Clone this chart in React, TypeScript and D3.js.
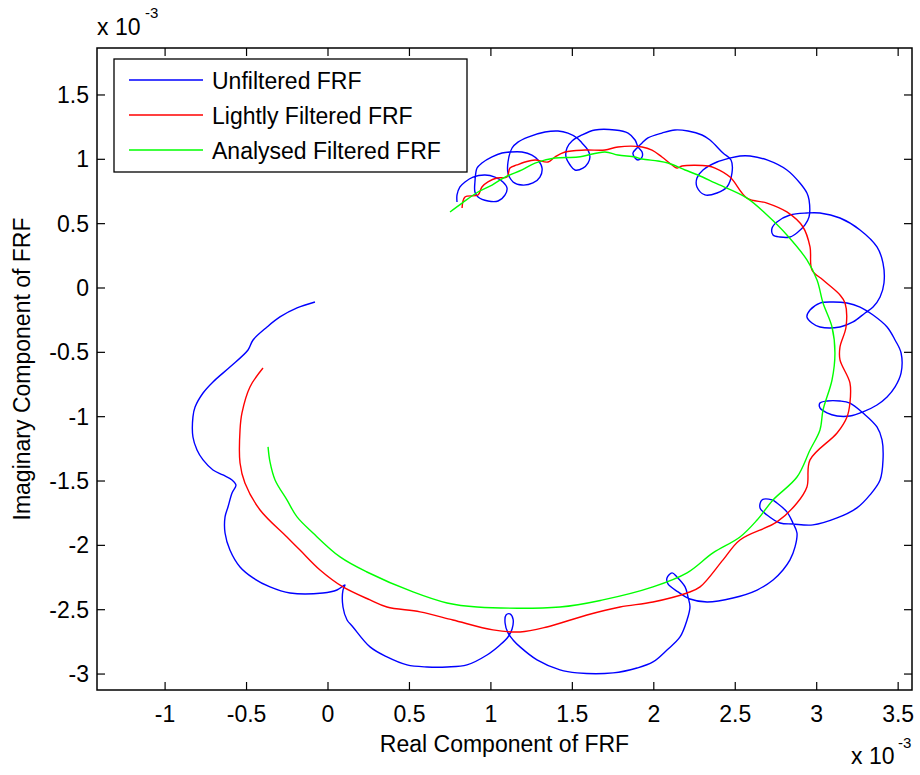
import React from "react";
import * as d3 from "d3";

// Values in units of 1e-3 (axes show "x 10^-3")
const xTicks = [-1, -0.5, 0, 0.5, 1, 1.5, 2, 2.5, 3, 3.5];
const yTicks = [-3, -2.5, -2, -1.5, -1, -0.5, 0, 0.5, 1, 1.5];
const xDomain = [-1.418, 3.585];
const yDomain = [-3.124, 1.865];

const seriesNames = ["Unfiltered FRF", "Lightly Filtered FRF", "Analysed Filtered FRF"];
const seriesColors = ["#0000ff", "#ff0000", "#00ff00"];

const bluePts = [
  [-0.080,-0.109],[-0.190,-0.155],[-0.295,-0.225],[-0.374,-0.303],[-0.460,-0.404],[-0.491,-0.482],
  [-0.602,-0.614],[-0.706,-0.730],[-0.767,-0.816],[-0.816,-0.925],[-0.829,-1.002],[-0.829,-1.158],
  [-0.804,-1.259],[-0.767,-1.336],[-0.706,-1.414],[-0.645,-1.453],[-0.589,-1.492],[-0.565,-1.531],
  [-0.589,-1.593],[-0.614,-1.702],[-0.632,-1.779],[-0.632,-1.904],[-0.602,-2.036],[-0.540,-2.168],
  [-0.460,-2.253],[-0.356,-2.323],[-0.233,-2.370],[-0.031,-2.370],[0.055,-2.347],[0.104,-2.308],
  [0.092,-2.347],[0.092,-2.479],[0.117,-2.580],[0.153,-2.634],[0.258,-2.789],[0.362,-2.867],
  [0.485,-2.929],[0.608,-2.945],[0.731,-2.945],[0.853,-2.929],[0.976,-2.852],[1.056,-2.774],
  [1.105,-2.712],[1.130,-2.650],[1.136,-2.573],[1.117,-2.533],[1.093,-2.541],[1.087,-2.603],
  [1.105,-2.680],[1.136,-2.735],[1.179,-2.789],[1.283,-2.890],[1.424,-2.968],[1.529,-2.991],
  [1.750,-2.991],[1.897,-2.953],[1.995,-2.906],[2.081,-2.813],[2.161,-2.712],[2.204,-2.580],
  [2.222,-2.479],[2.210,-2.401],[2.192,-2.323],[2.142,-2.246],[2.112,-2.214],[2.081,-2.253],
  [2.087,-2.300],[2.149,-2.362],[2.222,-2.417],[2.327,-2.440],[2.486,-2.409],
  [2.634,-2.347],[2.732,-2.269],[2.793,-2.191],[2.836,-2.113],[2.867,-2.012],[2.879,-1.904],
  [2.854,-1.826],[2.817,-1.740],[2.756,-1.671],[2.726,-1.647],[2.664,-1.647],[2.652,-1.709],
  [2.695,-1.764],[2.775,-1.826],[2.854,-1.834],[2.977,-1.841],[3.125,-1.787],[3.247,-1.709],
  [3.327,-1.608],[3.389,-1.492],[3.407,-1.336],[3.401,-1.181],[3.370,-1.080],[3.284,-0.971],
  [3.204,-0.894],[3.143,-0.878],[3.063,-0.878],[3.020,-0.894],[3.020,-0.932],[3.063,-0.971],
  [3.125,-0.995],[3.204,-0.995],[3.284,-0.963],[3.370,-0.909],[3.432,-0.847],[3.481,-0.769],
  [3.518,-0.660],[3.518,-0.505],[3.481,-0.404],[3.432,-0.303],[3.346,-0.210],[3.266,-0.148],
  [3.186,-0.117],[3.100,-0.109],[3.020,-0.117],[2.959,-0.171],[2.940,-0.225],[2.971,-0.272],
  [3.020,-0.303],[3.143,-0.303],[3.223,-0.264],[3.297,-0.194],[3.346,-0.148],[3.389,-0.070],
  [3.413,0.039],[3.407,0.194],[3.370,0.319],[3.266,0.451],[3.143,0.544],[3.020,0.583],
  [2.940,0.583],[2.836,0.567],[2.756,0.513],[2.726,0.466],[2.732,0.412],[2.775,0.396],
  [2.836,0.396],[2.885,0.435],[2.928,0.490],[2.953,0.552],[2.953,0.684],[2.940,0.738],
  [2.897,0.816],[2.817,0.917],[2.695,0.995],[2.591,1.026],[2.529,1.026],[2.468,1.010],
  [2.388,0.979],[2.302,0.917],[2.265,0.855],[2.265,0.785],[2.314,0.723],[2.388,0.738],
  [2.449,0.785],[2.480,0.894],[2.474,0.995],[2.425,1.049],[2.345,1.150],[2.296,1.189],
  [2.210,1.220],[2.130,1.228],[2.050,1.204],[1.964,1.166],[1.928,1.127],[1.897,1.088],
  [1.872,1.049],[1.885,1.010],[1.903,0.995],[1.928,1.018],[1.928,1.057],[1.903,1.096],
  [1.885,1.150],[1.842,1.204],[1.762,1.228],[1.639,1.228],[1.559,1.189],[1.498,1.142],
  [1.467,1.088],[1.461,1.018],[1.486,0.956],[1.516,0.917],[1.565,0.932],[1.596,0.971],
  [1.608,1.018],[1.596,1.072],[1.559,1.127],[1.529,1.166],[1.473,1.204],[1.412,1.220],
  [1.332,1.212],[1.228,1.173],[1.166,1.134],[1.130,1.088],[1.105,0.979],[1.105,0.894],
  [1.136,0.824],[1.191,0.800],[1.258,0.816],[1.301,0.862],[1.314,0.932],[1.289,0.995],
  [1.252,1.033],[1.191,1.057],[1.117,1.057],[1.068,1.049],[1.007,1.018],[0.945,0.971],
  [0.915,0.932],[0.902,0.824],[0.902,0.746],[0.921,0.707],[0.982,0.676],[1.044,0.676],
  [1.087,0.723],[1.099,0.777],[1.074,0.824],[1.025,0.862],[0.964,0.878],[0.890,0.862],
  [0.841,0.824],[0.810,0.785],[0.792,0.723],[0.792,0.668],
];

const redPts = [
  [-0.399,-0.622],[-0.479,-0.769],[-0.528,-0.971],[-0.540,-1.103],[-0.540,-1.360],[-0.510,-1.515],
  [-0.417,-1.725],[-0.252,-1.935],[-0.172,-2.036],[-0.049,-2.191],[0.092,-2.323],[0.258,-2.424],
  [0.362,-2.479],[0.565,-2.517],[0.767,-2.580],[1.013,-2.657],[1.179,-2.673],[1.344,-2.634],
  [1.590,-2.541],[1.793,-2.479],[1.995,-2.440],[2.204,-2.370],[2.284,-2.323],[2.425,-2.113],
  [2.529,-1.958],[2.756,-1.818],[2.879,-1.671],[2.940,-1.546],[2.959,-1.336],[3.125,-1.127],
  [3.186,-1.002],[3.204,-0.894],[3.204,-0.738],[3.143,-0.559],[3.143,-0.458],[3.180,-0.303],
  [3.174,-0.117],[3.143,-0.054],[3.039,0.062],[2.971,0.140],[2.959,0.319],[2.916,0.474],
  [2.817,0.591],[2.695,0.660],[2.572,0.699],[2.468,0.862],[2.376,0.932],[2.333,0.948],
  [2.173,0.948],[2.142,0.932],[2.112,0.956],[2.050,1.018],[1.989,1.072],[1.928,1.096],
  [1.780,1.096],[1.700,1.072],[1.578,1.072],[1.455,1.057],[1.393,1.018],[1.351,0.979],
  [1.271,0.995],[1.209,0.979],[1.160,0.956],[1.117,0.932],[1.099,0.862],[1.037,0.855],
  [0.982,0.824],[0.945,0.785],[0.921,0.723],[0.841,0.707],[0.823,0.622],
];

const greenPts = [
  [0.749,0.591],[0.823,0.660],[0.921,0.746],[1.007,0.800],[1.087,0.862],[1.191,0.917],
  [1.271,0.971],[1.393,1.010],[1.535,1.018],[1.700,1.057],[1.780,1.033],[1.885,1.018],
  [1.928,1.002],[2.026,0.987],[2.087,0.971],[2.192,0.917],[2.271,0.878],[2.376,0.816],
  [2.572,0.699],[2.695,0.567],[2.817,0.412],[2.940,0.218],[3.002,0.062],[3.039,-0.117],
  [3.094,-0.303],[3.112,-0.505],[3.094,-0.715],[3.039,-0.948],[3.020,-1.103],[2.959,-1.259],
  [2.879,-1.469],[2.732,-1.647],[2.634,-1.803],[2.529,-1.935],[2.363,-2.059],[2.204,-2.214],
  [1.995,-2.323],[1.688,-2.424],[1.424,-2.479],[0.915,-2.479],[0.731,-2.448],[0.522,-2.362],
  [0.239,-2.207],[0.074,-2.090],[-0.092,-1.904],[-0.190,-1.779],[-0.252,-1.647],[-0.325,-1.492],
  [-0.356,-1.352],[-0.368,-1.235],
];

const FONT = "'Liberation Sans', Arial, Helvetica, sans-serif";

export default function App() {
  const left = 97, right = 912, top = 48, bottom = 690;
  const x = d3.scaleLinear().domain(xDomain).range([left, right]);
  const y = d3.scaleLinear().domain(yDomain).range([bottom, top]);
  const line = d3
    .line<number[]>()
    .x((d) => x(d[0]))
    .y((d) => y(d[1]))
    .curve(d3.curveCatmullRom.alpha(0.5));
  const series = [bluePts, redPts, greenPts];
  const tickLen = 8;
  const fs = 23;
  const legendRows = [80, 115, 150];

  return (
    <div style={{ position: "absolute", left: 0, top: 0 }}>
      <svg width={920} height={775} style={{ display: "block", background: "#fff" }} fontFamily={FONT}>
        <rect x={0} y={0} width={920} height={775} fill="#fff" />
        {/* data */}
        <g fill="none" strokeWidth={1.4} strokeLinejoin="round">
          {series.map((s, i) => (
            <path key={i} d={line(s) || ""} stroke={seriesColors[i]} />
          ))}
        </g>
        {/* axes box */}
        <rect x={left} y={top} width={right - left} height={bottom - top} fill="none" stroke="#000" strokeWidth={1.5} />
        {xTicks.map((t) => (
          <g key={"x" + t}>
            <line x1={x(t)} x2={x(t)} y1={bottom} y2={bottom - tickLen} stroke="#000" strokeWidth={1.2} />
            <line x1={x(t)} x2={x(t)} y1={top} y2={top + tickLen} stroke="#000" strokeWidth={1.2} />
            <text x={x(t)} y={722} textAnchor="middle" fontSize={fs} fill="#000">
              {String(t)}
            </text>
          </g>
        ))}
        {yTicks.map((t) => (
          <g key={"y" + t}>
            <line x1={left} x2={left + tickLen} y1={y(t)} y2={y(t)} stroke="#000" strokeWidth={1.2} />
            <line x1={right} x2={right - tickLen} y1={y(t)} y2={y(t)} stroke="#000" strokeWidth={1.2} />
            <text x={89} y={y(t) + 8} textAnchor="end" fontSize={fs} fill="#000">
              {String(t)}
            </text>
          </g>
        ))}
        {/* exponent labels */}
        <text x={97} y={35} fontSize={fs} fill="#000">x 10</text>
        <text x={145} y={18} fontSize={15} fill="#000">-3</text>
        <text x={851} y={764} fontSize={fs} fill="#000">x 10</text>
        <text x={898} y={748} fontSize={15} fill="#000">-3</text>
        {/* axis labels */}
        <text x={(left + right) / 2} y={752} textAnchor="middle" fontSize={fs} fill="#000">
          Real Component of FRF
        </text>
        <text
          transform={`translate(30, ${(top + bottom) / 2}) rotate(-90)`}
          textAnchor="middle"
          fontSize={fs}
          fill="#000"
        >
          Imaginary Component of FRF
        </text>
        {/* legend */}
        <rect x={114} y={59} width={353} height={113} fill="#fff" stroke="#000" strokeWidth={1.3} />
        {seriesNames.map((n, i) => (
          <g key={n}>
            <line x1={129} x2={203} y1={legendRows[i]} y2={legendRows[i]} stroke={seriesColors[i]} strokeWidth={1.4} />
            <text x={212} y={legendRows[i] + 9} fontSize={fs} fill="#000">
              {n}
            </text>
          </g>
        ))}
      </svg>
    </div>
  );
}
